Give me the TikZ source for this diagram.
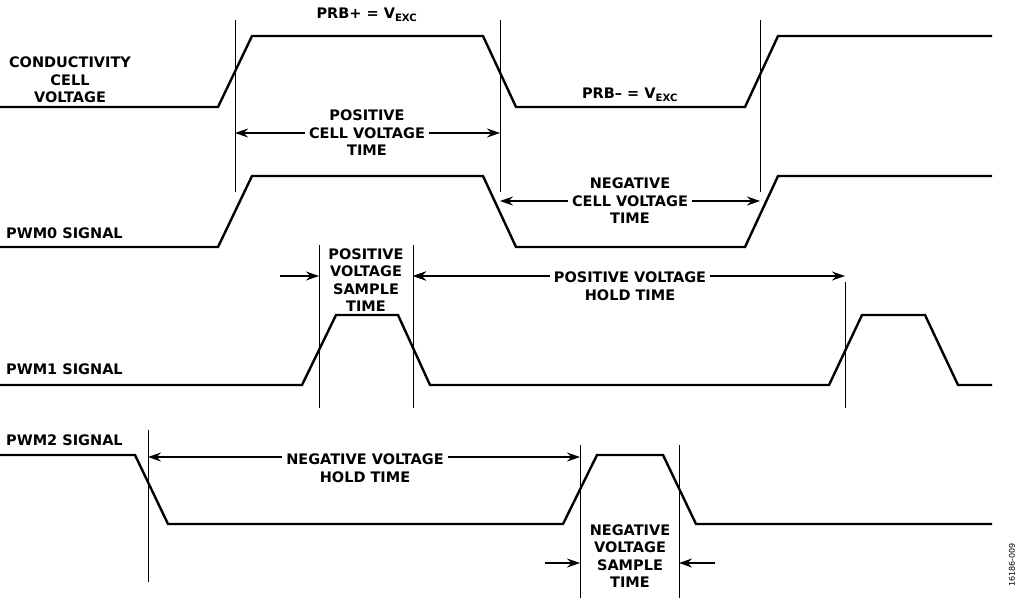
\documentclass[tikz,border=0pt]{standalone}
\usepackage{fontspec}
\setmainfont{DejaVu Sans}
\usetikzlibrary{arrows.meta}
\begin{document}
\begin{tikzpicture}[x=1pt,y=-1pt,
  sig/.style={line width=2.4pt,line join=miter},
  vl/.style={line width=0.8pt},
  arr/.style={line width=1.3pt,-{Stealth[length=13pt,width=9pt]}},
  lbl/.style={font=\fontsize{14.5}{17.5}\selectfont\bfseries,inner ysep=1pt,inner xsep=4pt,fill=white,align=center},
  llbl/.style={font=\fontsize{14.5}{17.5}\selectfont\bfseries,inner sep=0pt,anchor=west}]
\useasboundingbox (0,0) rectangle (1024,598);
% signals
\draw[sig] (0,107)--(218,107)--(252,36)--(483,36)--(516,107)--(745,107)--(778,36)--(992,36);
\draw[sig] (0,247)--(218,247)--(252,176)--(483,176)--(516,247)--(745,247)--(778,176)--(992,176);
\draw[sig] (0,385)--(302,385)--(336,315)--(398,315)--(430,385)--(829,385)--(862,315)--(925,315)--(958,385)--(992,385);
\draw[sig] (0,455)--(135,455)--(168,524)--(563,524)--(597,455)--(663,455)--(696,524)--(992,524);
% verticals
\coordinate (a1) at (235,20); \coordinate (a2) at (235,192);
\coordinate (b1) at (500,20); \coordinate (b2) at (500,192);
\coordinate (c1) at (760,20); \coordinate (c2) at (760,192);
\draw[vl] (a1)--(a2); \draw[vl] (b1)--(b2); \draw[vl] (c1)--(c2);
\draw[vl] (319,245)--(319,408); \draw[vl] (413,245)--(413,408); \draw[vl] (845,282)--(845,408);
\draw[vl] (148,430)--(148,582); \draw[vl] (580,445)--(580,598); \draw[vl] (679,445)--(679,598);
% arrows
\draw[arr] (367,133)--(235,133); \draw[arr] (367,133)--(500,133);
\draw[arr] (630,201)--(500,201); \draw[arr] (630,201)--(760,201);
\draw[arr] (280,276)--(319,276); \draw[arr] (452,276)--(413,276);
\draw[arr] (630,276)--(413,276); \draw[arr] (630,276)--(845,276);
\draw[arr] (365,457)--(148,457); \draw[arr] (365,457)--(580,457);
\draw[arr] (545,563)--(580,563); \draw[arr] (715,563)--(679,563);
% labels
\node[lbl] at (367,15) {PRB+ = V\textsubscript{EXC}};
\node[lbl] at (630,95) {PRB– = V\textsubscript{EXC}};
\node[lbl] at (367,133) {POSITIVE\\CELL VOLTAGE\\TIME};
\node[lbl] at (630,201) {NEGATIVE\\CELL VOLTAGE\\TIME};
\node[lbl,fill=none] at (366,280) {POSITIVE\\VOLTAGE\\SAMPLE\\TIME};
\node[lbl] at (630,286) {POSITIVE VOLTAGE\\HOLD TIME};
\node[lbl] at (365,468) {NEGATIVE VOLTAGE\\HOLD TIME};
\node[lbl,fill=none] at (630,556) {NEGATIVE\\VOLTAGE\\SAMPLE\\TIME};
\node[lbl,fill=none] at (70,80) {CONDUCTIVITY\\CELL\\VOLTAGE};
\node[llbl] at (6,233) {PWM0 SIGNAL};
\node[llbl] at (6,369) {PWM1 SIGNAL};
\node[llbl] at (6,440) {PWM2 SIGNAL};
\node[font=\fontsize{8}{9}\selectfont,rotate=90] at (1012,565) {16186-009};
\end{tikzpicture}
\end{document}
